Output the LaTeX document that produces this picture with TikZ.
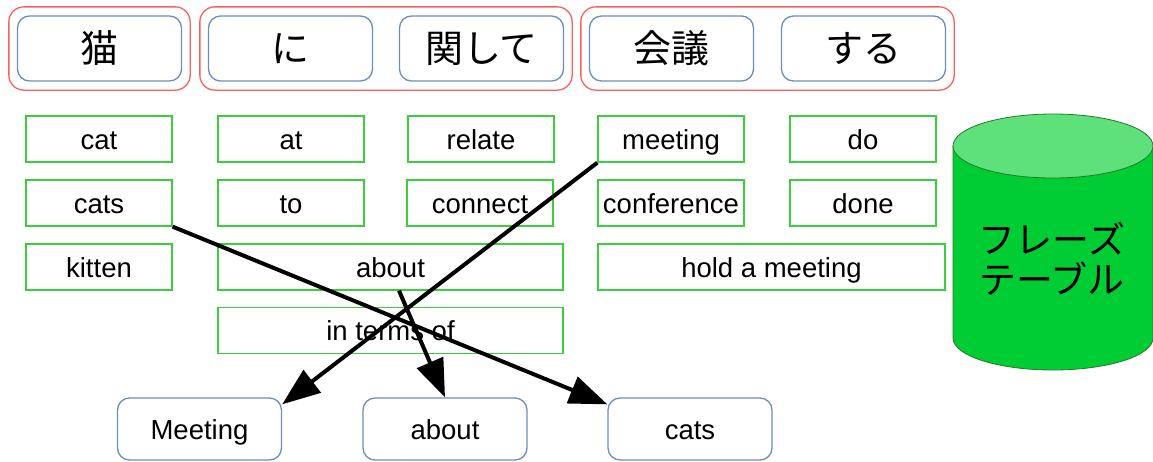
\documentclass[tikz,border=0pt]{standalone}
\usepackage{fontspec}
\setmainfont{Liberation Sans}
\newfontfamily\jpfont{Noto Sans CJK JP}
\usetikzlibrary{arrows.meta,fit,calc}
\definecolor{grpred}{RGB}{250,95,95}
\definecolor{boxblue}{RGB}{108,142,191}
\definecolor{boxgreen}{RGB}{60,205,60}
\definecolor{cylbody}{RGB}{0,204,51}
\definecolor{cyltop}{RGB}{94,224,122}
\definecolor{cylline}{RGB}{40,120,40}
\tikzset{
  jpbox/.style={draw=boxblue,line width=1.3pt,rounded corners=12pt,minimum width=164pt,minimum height=65pt,inner sep=0pt,font=\jpfont\fontsize{38}{40}\selectfont},
  grp/.style={draw=grpred,line width=1.3pt,rounded corners=15pt,inner xsep=8pt,inner ysep=8.5pt},
  lat/.style={font=\fontsize{27.5}{30}\selectfont,text height=25pt,text depth=4.5pt,inner sep=0pt},
  wbox/.style={lat,draw=boxgreen,line width=1.3pt,minimum width=146pt,minimum height=46pt},
  outbox/.style={lat,draw=boxblue,line width=1.3pt,rounded corners=12pt,minimum width=164pt,minimum height=62pt},
  arr/.style={line width=4pt,-{Triangle[length=38pt,width=28pt]}}
}
\begin{document}
\begin{tikzpicture}[x=1pt,y=-1pt]
\useasboundingbox (0,0) rectangle (1153,461);
% top japanese boxes
\node[jpbox] (neko) at (99.5,48.5) {猫};
\node[jpbox] (ni) at (290.5,48.5) {に};
\node[jpbox] (kanshite) at (481.5,48.5) {関して};
\node[jpbox] (kaigi) at (671.5,48.5) {会議};
\node[jpbox] (suru) at (863.5,48.5) {する};
\node[grp,fit=(neko)] (g1) {};
\node[grp,fit=(ni)(kanshite)] (g2) {};
\node[grp,fit=(kaigi)(suru)] (g3) {};
% candidate words
\node[wbox] (cat) at (99,139) {cat};
\node[wbox] (cats) at (99,203) {cats};
\node[wbox] (kitten) at (99,267) {kitten};
\node[wbox] (at) at (291,139) {at};
\node[wbox] (to) at (291,203) {to};
\node[wbox,minimum width=345pt] (about) at (390.5,267) {about};
\node[wbox,minimum width=345pt] (interms) at (390.5,330.5) {in terms of};
\node[wbox] (relate) at (481,139) {relate};
\node[wbox] (connect) at (480,203) {connect};
\node[wbox] (meeting) at (671,139) {meeting};
\node[wbox] (conference) at (671,203) {conference};
\node[wbox,minimum width=347pt] (hold) at (771.5,267) {hold a meeting};
\node[wbox] (do) at (863,139) {do};
\node[wbox] (done) at (863,203) {done};
% cylinder
\fill[cylbody,draw=cylline,line width=0.8pt] (953,146) -- (953,338) arc[start angle=180,end angle=0,x radius=100,y radius=32] -- (1153,146) -- cycle;
\fill[cyltop,draw=cylline,line width=0.8pt] (1053,146) ellipse[x radius=100,y radius=32];
\node[font=\jpfont\fontsize{37}{40}\selectfont,align=center,inner sep=0pt] (table) at (1052,259) {フレーズ\\テーブル};
% output boxes
\node[outbox] (oMeeting) at (199.5,429) {Meeting};
\node[outbox] (oAbout) at (445,429) {about};
\node[outbox] (oCats) at (690,429) {cats};
% arrows
\draw[arr] (meeting.south west) -- ([yshift=-7pt]oMeeting.north east);
\draw[arr] (cats.south east) -- ([yshift=-7pt]oCats.north west);
\draw[arr] ([xshift=8.5pt]about.south) -- (oAbout.north);
\end{tikzpicture}
\end{document}
